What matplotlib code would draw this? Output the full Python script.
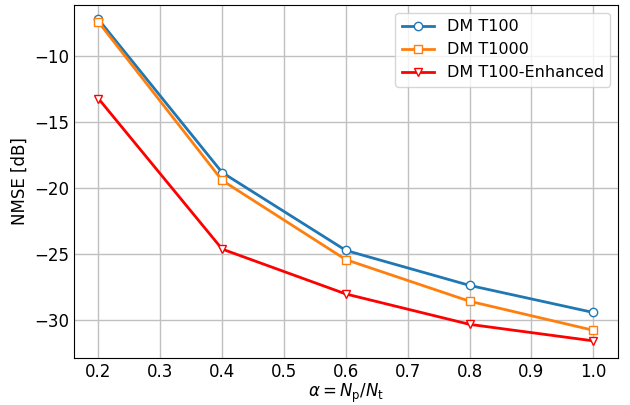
import matplotlib.pyplot as plt

alpha = [0.2, 0.4, 0.6, 0.8, 1.0]
nmse_t100 = [-7.25, -18.85, -24.75, -27.4, -29.45]
nmse_t1000 = [-7.45, -19.45, -25.45, -28.6, -30.8]
nmse_t100_enh = [-13.25, -24.65, -28.05, -30.35, -31.6]

plt.rcParams["font.size"] = 12

fig, ax = plt.subplots(figsize=(6.3, 4.05), dpi=100)
ax.plot(alpha, nmse_t100, "-o", color="tab:blue", lw=2, ms=6,
        markerfacecolor="white", label="DM T100")
ax.plot(alpha, nmse_t1000, "-s", color="tab:orange", lw=2, ms=6,
        markerfacecolor="white", label="DM T1000")
ax.plot(alpha, nmse_t100_enh, "-v", color="red", lw=2, ms=6,
        markerfacecolor="white", label="DM T100-Enhanced")

ax.set_xlabel(r"$\alpha = N_\mathrm{p}/N_\mathrm{t}$", labelpad=1)
ax.set_ylabel("NMSE [dB]")
ax.set_ylim(-32.9, -6.15)
ax.tick_params(length=0)
ax.grid(True, lw=1, color="#c0c0c0")
ax.legend(loc="upper right", fontsize=11.5)

fig.subplots_adjust(left=0.117, right=0.981, top=0.988, bottom=0.116)
fig.savefig("out.png", dpi=100)
plt.close(fig)
